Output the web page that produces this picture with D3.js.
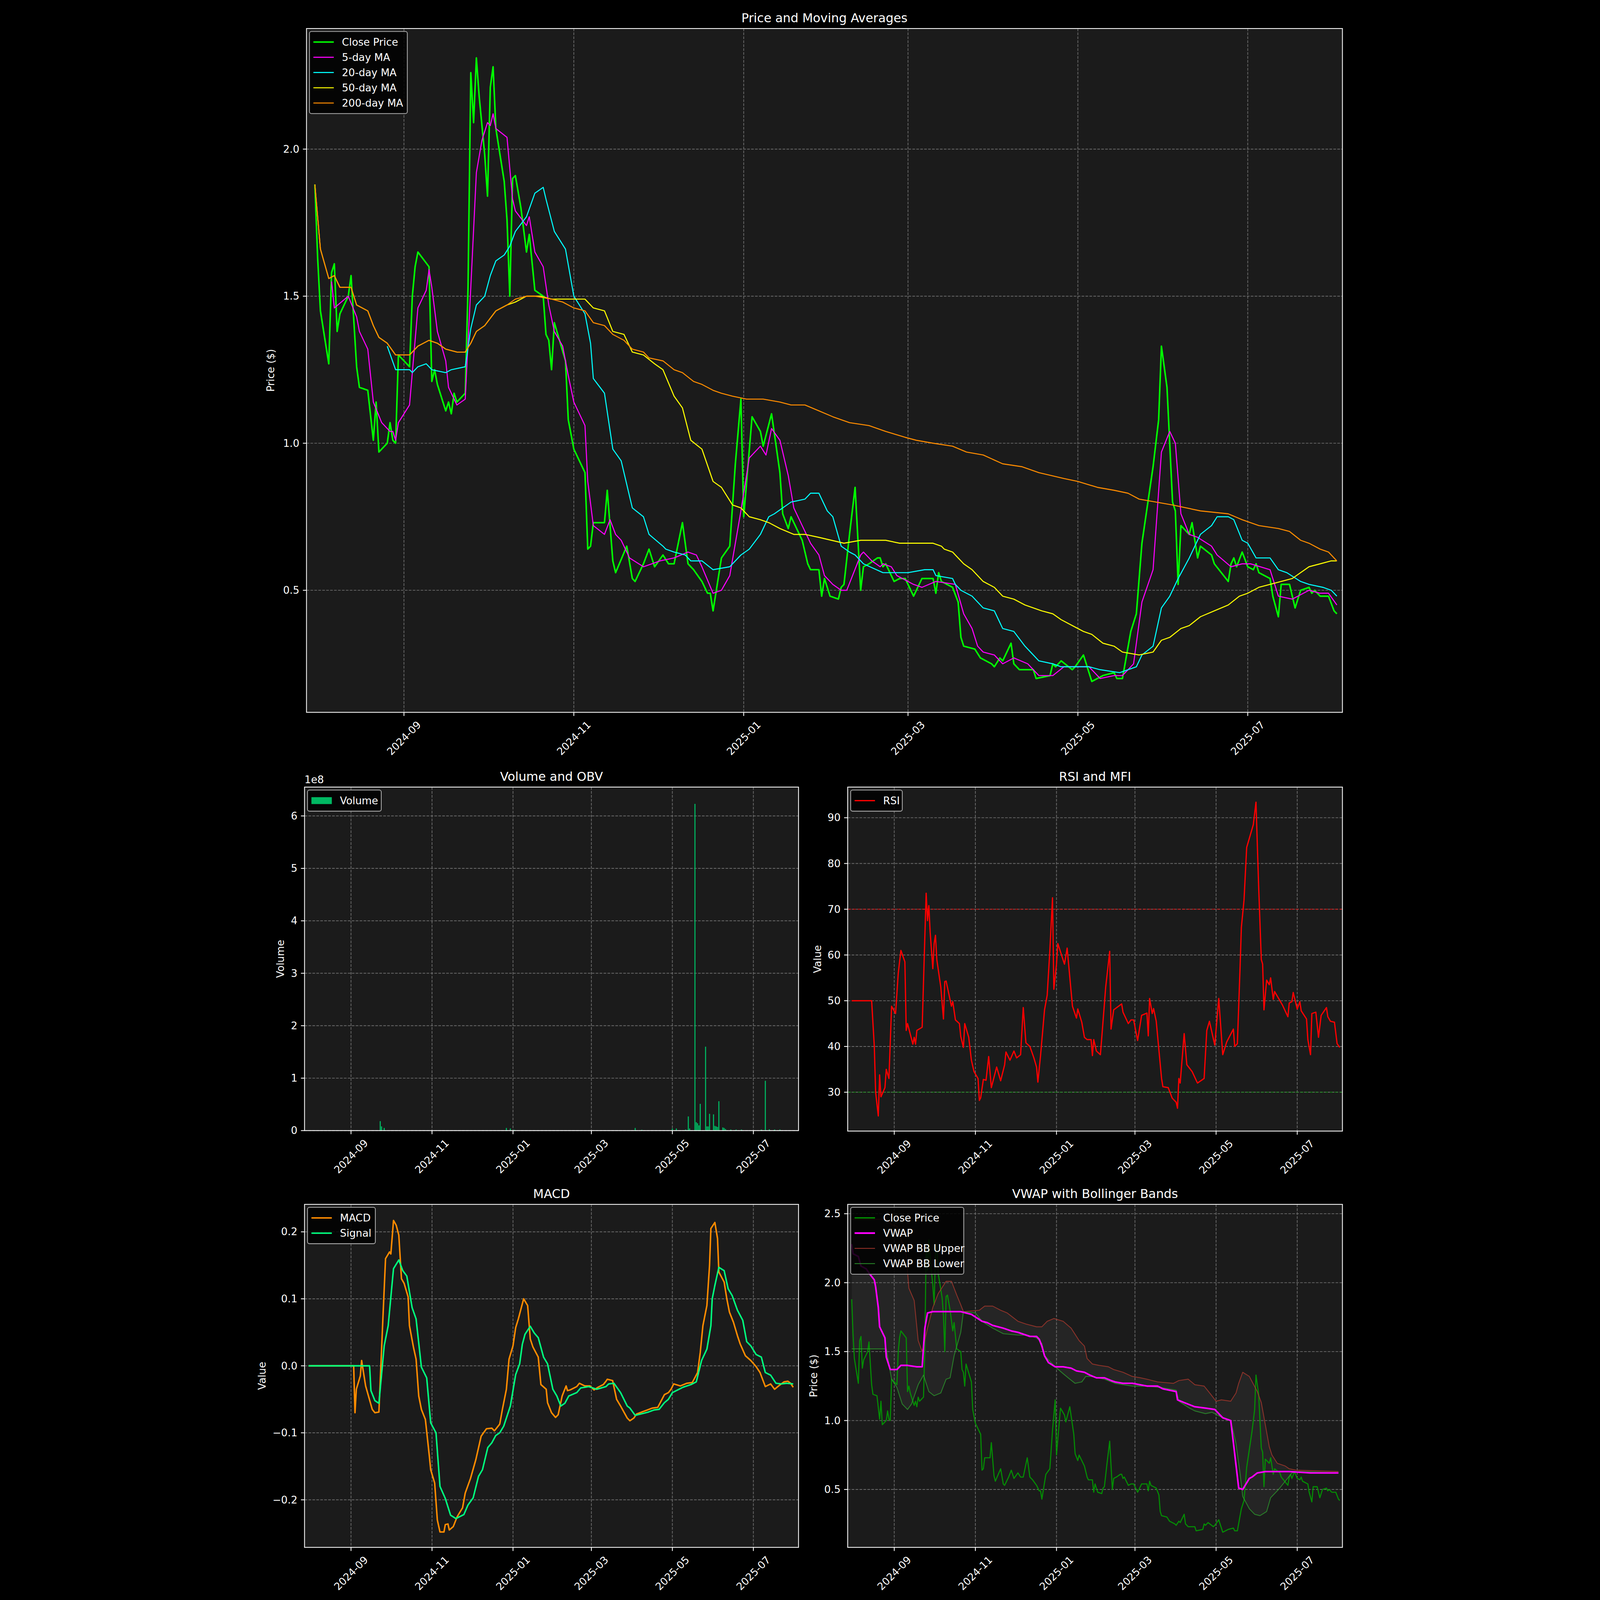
<!DOCTYPE html>
<html>
<head>
<meta charset="utf-8">
<script src="https://cdn.jsdelivr.net/npm/d3@7"></script>
<style>
  html, body { margin: 0; padding: 0; background: #000; overflow: hidden; }
  #chart { display: block; width: 100vw; height: 100vh; }
  text { font-family: "DejaVu Sans", sans-serif; fill: #fff; }
</style>
</head>
<body>
<svg id="chart" viewBox="0 0 4470 6507" preserveAspectRatio="xMidYMid meet"></svg>
<script>
// ---- data ----
var close = [["2024-07-31",1.88],["2024-08-01",1.63],["2024-08-02",1.45],["2024-08-05",1.27],["2024-08-06",1.58],["2024-08-07",1.61],["2024-08-08",1.38],["2024-08-09",1.44],["2024-08-12",1.50],["2024-08-13",1.57],["2024-08-15",1.26],["2024-08-16",1.19],["2024-08-19",1.18],["2024-08-21",1.01],["2024-08-22",1.14],["2024-08-23",0.97],["2024-08-26",1.00],["2024-08-27",1.07],["2024-08-28",1.01],["2024-08-29",1.00],["2024-08-30",1.30],["2024-09-03",1.26],["2024-09-04",1.50],["2024-09-05",1.60],["2024-09-06",1.65],["2024-09-10",1.60],["2024-09-11",1.21],["2024-09-12",1.25],["2024-09-13",1.20],["2024-09-16",1.11],["2024-09-17",1.14],["2024-09-18",1.10],["2024-09-19",1.17],["2024-09-20",1.14],["2024-09-23",1.17],["2024-09-24",1.53],["2024-09-25",2.26],["2024-09-26",2.09],["2024-09-27",2.31],["2024-09-28",2.18],["2024-09-30",1.98],["2024-10-01",1.84],["2024-10-02",2.21],["2024-10-03",2.28],["2024-10-04",2.07],["2024-10-07",1.89],["2024-10-08",1.76],["2024-10-09",1.50],["2024-10-10",1.90],["2024-10-11",1.91],["2024-10-13",1.80],["2024-10-15",1.65],["2024-10-16",1.71],["2024-10-18",1.52],["2024-10-21",1.50],["2024-10-22",1.37],["2024-10-23",1.35],["2024-10-24",1.25],["2024-10-25",1.41],["2024-10-29",1.28],["2024-10-30",1.08],["2024-11-01",0.98],["2024-11-05",0.90],["2024-11-06",0.64],["2024-11-07",0.65],["2024-11-08",0.73],["2024-11-12",0.73],["2024-11-13",0.84],["2024-11-14",0.72],["2024-11-15",0.60],["2024-11-16",0.56],["2024-11-20",0.65],["2024-11-22",0.54],["2024-11-23",0.53],["2024-11-26",0.59],["2024-11-28",0.64],["2024-11-30",0.58],["2024-12-03",0.62],["2024-12-05",0.59],["2024-12-07",0.59],["2024-12-10",0.73],["2024-12-12",0.59],["2024-12-14",0.57],["2024-12-17",0.53],["2024-12-19",0.49],["2024-12-20",0.49],["2024-12-21",0.43],["2024-12-24",0.61],["2024-12-27",0.65],["2024-12-29",0.93],["2024-12-31",1.15],["2025-01-01",0.75],["2025-01-04",1.09],["2025-01-07",1.04],["2025-01-08",0.99],["2025-01-11",1.10],["2025-01-14",0.90],["2025-01-15",0.76],["2025-01-17",0.71],["2025-01-18",0.75],["2025-01-22",0.67],["2025-01-24",0.59],["2025-01-25",0.57],["2025-01-28",0.57],["2025-01-29",0.48],["2025-01-30",0.54],["2025-02-01",0.48],["2025-02-04",0.47],["2025-02-05",0.51],["2025-02-06",0.52],["2025-02-08",0.69],["2025-02-10",0.85],["2025-02-12",0.50],["2025-02-13",0.58],["2025-02-15",0.59],["2025-02-18",0.61],["2025-02-19",0.61],["2025-02-20",0.58],["2025-02-21",0.59],["2025-02-24",0.53],["2025-02-26",0.54],["2025-02-28",0.54],["2025-03-03",0.48],["2025-03-06",0.54],["2025-03-08",0.54],["2025-03-10",0.54],["2025-03-11",0.49],["2025-03-12",0.56],["2025-03-13",0.53],["2025-03-17",0.51],["2025-03-19",0.46],["2025-03-20",0.34],["2025-03-21",0.31],["2025-03-25",0.30],["2025-03-27",0.27],["2025-03-31",0.25],["2025-04-01",0.24],["2025-04-03",0.27],["2025-04-04",0.26],["2025-04-07",0.32],["2025-04-08",0.25],["2025-04-10",0.23],["2025-04-15",0.23],["2025-04-16",0.20],["2025-04-21",0.21],["2025-04-22",0.25],["2025-04-23",0.24],["2025-04-25",0.26],["2025-04-29",0.23],["2025-04-30",0.24],["2025-05-03",0.28],["2025-05-06",0.19],["2025-05-08",0.20],["2025-05-10",0.21],["2025-05-14",0.22],["2025-05-15",0.20],["2025-05-17",0.20],["2025-05-20",0.36],["2025-05-22",0.42],["2025-05-24",0.66],["2025-05-28",0.92],["2025-05-30",1.08],["2025-05-31",1.33],["2025-06-02",1.19],["2025-06-04",0.80],["2025-06-05",0.77],["2025-06-06",0.52],["2025-06-07",0.72],["2025-06-10",0.69],["2025-06-11",0.73],["2025-06-13",0.61],["2025-06-14",0.65],["2025-06-18",0.62],["2025-06-19",0.59],["2025-06-24",0.53],["2025-06-25",0.59],["2025-06-26",0.61],["2025-06-27",0.58],["2025-06-29",0.63],["2025-07-01",0.58],["2025-07-03",0.57],["2025-07-04",0.59],["2025-07-05",0.56],["2025-07-09",0.54],["2025-07-10",0.48],["2025-07-12",0.41],["2025-07-13",0.52],["2025-07-16",0.52],["2025-07-18",0.44],["2025-07-20",0.50],["2025-07-23",0.51],["2025-07-24",0.49],["2025-07-25",0.50],["2025-07-27",0.48],["2025-07-30",0.48],["2025-08-01",0.43],["2025-08-02",0.42]];

var ma5 = [["2024-08-06",1.55],["2024-08-07",1.46],["2024-08-12",1.50],["2024-08-15",1.43],["2024-08-16",1.38],["2024-08-19",1.32],["2024-08-21",1.14],["2024-08-24",1.07],["2024-08-27",1.04],["2024-08-28",1.04],["2024-08-29",1.01],["2024-08-30",1.07],["2024-09-03",1.13],["2024-09-06",1.46],["2024-09-09",1.52],["2024-09-10",1.59],["2024-09-11",1.53],["2024-09-13",1.38],["2024-09-16",1.28],["2024-09-17",1.19],["2024-09-20",1.13],["2024-09-23",1.15],["2024-09-25",1.53],["2024-09-27",1.92],["2024-09-29",2.03],["2024-10-01",2.09],["2024-10-02",2.08],["2024-10-03",2.12],["2024-10-04",2.07],["2024-10-08",2.04],["2024-10-10",1.83],["2024-10-11",1.79],["2024-10-15",1.74],["2024-10-16",1.77],["2024-10-18",1.65],["2024-10-21",1.60],["2024-10-23",1.47],["2024-10-25",1.38],["2024-10-28",1.33],["2024-10-30",1.23],["2024-11-01",1.14],["2024-11-05",1.06],["2024-11-06",0.87],["2024-11-08",0.72],["2024-11-12",0.69],["2024-11-14",0.74],["2024-11-16",0.69],["2024-11-18",0.67],["2024-11-21",0.61],["2024-11-26",0.58],["2024-12-02",0.60],["2024-12-07",0.61],["2024-12-12",0.63],["2024-12-15",0.62],["2024-12-17",0.58],["2024-12-21",0.49],["2024-12-24",0.50],["2024-12-27",0.55],["2024-12-31",0.77],["2025-01-03",0.95],["2025-01-07",0.99],["2025-01-09",0.96],["2025-01-11",1.05],["2025-01-14",1.01],["2025-01-17",0.89],["2025-01-19",0.78],["2025-01-22",0.72],["2025-01-25",0.66],["2025-01-28",0.62],["2025-01-30",0.55],["2025-02-02",0.52],["2025-02-05",0.50],["2025-02-07",0.50],["2025-02-12",0.62],["2025-02-13",0.63],["2025-02-16",0.60],["2025-02-19",0.58],["2025-02-20",0.59],["2025-02-23",0.58],["2025-02-25",0.55],["2025-03-03",0.52],["2025-03-06",0.51],["2025-03-11",0.53],["2025-03-18",0.52],["2025-03-21",0.42],["2025-03-24",0.37],["2025-03-26",0.31],["2025-03-28",0.29],["2025-04-01",0.28],["2025-04-04",0.25],["2025-04-08",0.27],["2025-04-13",0.25],["2025-04-17",0.21],["2025-04-22",0.21],["2025-04-26",0.24],["2025-05-01",0.24],["2025-05-05",0.24],["2025-05-09",0.20],["2025-05-14",0.21],["2025-05-17",0.21],["2025-05-21",0.25],["2025-05-24",0.46],["2025-05-28",0.57],["2025-05-31",0.97],["2025-06-03",1.04],["2025-06-05",1.00],["2025-06-07",0.76],["2025-06-10",0.69],["2025-06-13",0.68],["2025-06-18",0.65],["2025-06-20",0.62],["2025-06-25",0.58],["2025-06-29",0.59],["2025-07-02",0.59],["2025-07-09",0.57],["2025-07-12",0.48],["2025-07-17",0.47],["2025-07-23",0.50],["2025-07-27",0.49],["2025-07-30",0.49],["2025-08-02",0.45]];

var ma20 = [["2024-08-26",1.33],["2024-08-29",1.25],["2024-09-03",1.25],["2024-09-04",1.24],["2024-09-06",1.26],["2024-09-09",1.27],["2024-09-11",1.25],["2024-09-16",1.24],["2024-09-18",1.25],["2024-09-23",1.26],["2024-09-25",1.39],["2024-09-27",1.47],["2024-09-30",1.50],["2024-10-02",1.57],["2024-10-04",1.62],["2024-10-07",1.64],["2024-10-09",1.67],["2024-10-11",1.72],["2024-10-15",1.77],["2024-10-18",1.85],["2024-10-21",1.87],["2024-10-22",1.83],["2024-10-25",1.72],["2024-10-29",1.66],["2024-11-01",1.50],["2024-11-05",1.44],["2024-11-07",1.34],["2024-11-08",1.22],["2024-11-12",1.17],["2024-11-15",0.98],["2024-11-18",0.94],["2024-11-22",0.78],["2024-11-26",0.75],["2024-11-28",0.69],["2024-12-03",0.65],["2024-12-04",0.64],["2024-12-07",0.63],["2024-12-11",0.62],["2024-12-13",0.60],["2024-12-17",0.60],["2024-12-21",0.57],["2024-12-27",0.58],["2024-12-31",0.62],["2025-01-03",0.64],["2025-01-07",0.69],["2025-01-10",0.75],["2025-01-12",0.76],["2025-01-18",0.80],["2025-01-23",0.81],["2025-01-25",0.83],["2025-01-28",0.83],["2025-01-31",0.77],["2025-02-02",0.75],["2025-02-05",0.65],["2025-02-08",0.63],["2025-02-10",0.62],["2025-02-13",0.59],["2025-02-20",0.56],["2025-03-01",0.56],["2025-03-07",0.57],["2025-03-10",0.57],["2025-03-11",0.55],["2025-03-17",0.54],["2025-03-18",0.52],["2025-03-20",0.50],["2025-03-24",0.48],["2025-03-28",0.44],["2025-04-01",0.43],["2025-04-04",0.37],["2025-04-08",0.36],["2025-04-12",0.31],["2025-04-14",0.29],["2025-04-17",0.26],["2025-04-22",0.25],["2025-04-25",0.24],["2025-05-01",0.24],["2025-05-05",0.24],["2025-05-09",0.23],["2025-05-16",0.22],["2025-05-22",0.24],["2025-05-24",0.28],["2025-05-28",0.31],["2025-05-31",0.44],["2025-06-03",0.48],["2025-06-06",0.54],["2025-06-10",0.61],["2025-06-14",0.69],["2025-06-18",0.72],["2025-06-20",0.75],["2025-06-24",0.75],["2025-06-26",0.74],["2025-06-29",0.67],["2025-07-01",0.66],["2025-07-04",0.61],["2025-07-09",0.61],["2025-07-12",0.57],["2025-07-15",0.56],["2025-07-20",0.53],["2025-07-23",0.52],["2025-07-28",0.51],["2025-07-31",0.50],["2025-08-02",0.48]];

var ma200 = [["2024-07-31",1.88],["2024-08-02",1.66],["2024-08-05",1.56],["2024-08-07",1.57],["2024-08-09",1.53],["2024-08-13",1.53],["2024-08-15",1.47],["2024-08-19",1.45],["2024-08-21",1.40],["2024-08-23",1.36],["2024-08-26",1.34],["2024-08-29",1.30],["2024-09-03",1.30],["2024-09-06",1.33],["2024-09-08",1.34],["2024-09-10",1.35],["2024-09-13",1.34],["2024-09-16",1.32],["2024-09-20",1.31],["2024-09-23",1.31],["2024-09-25",1.34],["2024-09-27",1.38],["2024-09-30",1.40],["2024-10-04",1.45],["2024-10-08",1.47],["2024-10-11",1.49],["2024-10-15",1.50],["2024-10-18",1.50],["2024-10-24",1.49],["2024-10-28",1.48],["2024-11-01",1.46],["2024-11-05",1.45],["2024-11-08",1.41],["2024-11-12",1.40],["2024-11-15",1.37],["2024-11-19",1.35],["2024-11-22",1.32],["2024-11-26",1.31],["2024-11-28",1.29],["2024-12-03",1.28],["2024-12-07",1.25],["2024-12-10",1.24],["2024-12-14",1.21],["2024-12-17",1.20],["2024-12-21",1.18],["2024-12-24",1.17],["2024-12-28",1.16],["2025-01-02",1.15],["2025-01-08",1.15],["2025-01-14",1.14],["2025-01-18",1.13],["2025-01-23",1.13],["2025-01-28",1.11],["2025-02-02",1.09],["2025-02-08",1.07],["2025-02-15",1.06],["2025-02-21",1.04],["2025-02-28",1.02],["2025-03-04",1.01],["2025-03-10",1.00],["2025-03-17",0.99],["2025-03-22",0.97],["2025-03-28",0.96],["2025-04-04",0.93],["2025-04-11",0.92],["2025-04-17",0.90],["2025-04-26",0.88],["2025-05-01",0.87],["2025-05-08",0.85],["2025-05-14",0.84],["2025-05-19",0.83],["2025-05-23",0.81],["2025-05-29",0.80],["2025-06-04",0.79],["2025-06-09",0.78],["2025-06-14",0.77],["2025-06-24",0.76],["2025-06-29",0.74],["2025-07-05",0.72],["2025-07-12",0.71],["2025-07-16",0.70],["2025-07-20",0.67],["2025-07-23",0.66],["2025-07-27",0.64],["2025-07-30",0.63],["2025-08-02",0.60]];

var ma50 = [["2024-07-31",1.88],["2024-08-02",1.66],["2024-08-05",1.56],["2024-08-07",1.57],["2024-08-09",1.53],["2024-08-13",1.53],["2024-08-15",1.47],["2024-08-19",1.45],["2024-08-21",1.40],["2024-08-23",1.36],["2024-08-26",1.34],["2024-08-29",1.30],["2024-09-03",1.30],["2024-09-06",1.33],["2024-09-08",1.34],["2024-09-10",1.35],["2024-09-13",1.34],["2024-09-16",1.32],["2024-09-20",1.31],["2024-09-23",1.31],["2024-09-25",1.34],["2024-09-27",1.38],["2024-09-30",1.40],["2024-10-04",1.45],["2024-10-08",1.47],["2024-10-11",1.48],["2024-10-15",1.50],["2024-10-20",1.50],["2024-10-24",1.49],["2024-11-01",1.49],["2024-11-05",1.49],["2024-11-08",1.46],["2024-11-12",1.45],["2024-11-15",1.38],["2024-11-19",1.37],["2024-11-22",1.31],["2024-11-26",1.30],["2024-11-30",1.27],["2024-12-03",1.25],["2024-12-07",1.16],["2024-12-10",1.12],["2024-12-13",1.01],["2024-12-17",0.98],["2024-12-21",0.87],["2024-12-24",0.85],["2024-12-26",0.82],["2024-12-28",0.79],["2024-12-31",0.78],["2025-01-03",0.75],["2025-01-07",0.74],["2025-01-10",0.73],["2025-01-14",0.71],["2025-01-19",0.69],["2025-01-23",0.69],["2025-01-28",0.68],["2025-02-06",0.66],["2025-02-12",0.67],["2025-02-21",0.67],["2025-02-26",0.66],["2025-03-04",0.66],["2025-03-10",0.66],["2025-03-13",0.65],["2025-03-14",0.64],["2025-03-17",0.63],["2025-03-21",0.59],["2025-03-24",0.57],["2025-03-28",0.53],["2025-04-01",0.51],["2025-04-04",0.48],["2025-04-08",0.47],["2025-04-12",0.45],["2025-04-15",0.44],["2025-04-18",0.43],["2025-04-22",0.42],["2025-04-25",0.40],["2025-04-29",0.38],["2025-05-03",0.36],["2025-05-06",0.35],["2025-05-10",0.32],["2025-05-14",0.31],["2025-05-17",0.29],["2025-05-23",0.28],["2025-05-28",0.29],["2025-05-31",0.33],["2025-06-03",0.34],["2025-06-07",0.37],["2025-06-10",0.38],["2025-06-14",0.41],["2025-06-19",0.43],["2025-06-24",0.45],["2025-06-28",0.48],["2025-07-01",0.49],["2025-07-05",0.51],["2025-07-09",0.52],["2025-07-13",0.53],["2025-07-17",0.54],["2025-07-20",0.56],["2025-07-23",0.58],["2025-07-27",0.59],["2025-07-31",0.60],["2025-08-02",0.60]];

var volume = [["2024-09-23",1.8e7],["2024-09-24",0.8e7],["2024-09-26",0.5e7],["2024-12-27",0.5e7],["2024-12-30",0.4e7],["2025-01-02",0.15e7],["2025-04-03",0.5e7],["2025-04-08",0.15e7],["2025-05-01",0.4e7],["2025-05-04",0.4e7],["2025-05-11",0.2e7],["2025-05-13",2.7e7],["2025-05-14",0.4e7],["2025-05-18",6.23e8],["2025-05-19",1.6e7],["2025-05-20",1.4e7],["2025-05-21",1.0e7],["2025-05-22",5.1e7],["2025-05-26",1.6e8],["2025-05-27",0.8e7],["2025-05-28",0.8e7],["2025-05-29",3.2e7],["2025-06-01",3.1e7],["2025-06-02",0.9e7],["2025-06-03",0.8e7],["2025-06-04",0.7e7],["2025-06-05",5.6e7],["2025-06-08",0.6e7],["2025-06-09",0.5e7],["2025-06-10",0.3e7],["2025-06-14",0.2e7],["2025-06-18",0.2e7],["2025-06-22",0.2e7],["2025-07-07",0.2e7],["2025-07-10",9.5e7],["2025-07-13",0.25e7],["2025-07-17",0.2e7],["2025-07-21",0.2e7]];

var rsi = [["2024-07-31",50],["2024-08-15",50],["2024-08-17",40],["2024-08-18",30],["2024-08-20",24.8],["2024-08-21",33.8],["2024-08-22",29],["2024-08-25",31],["2024-08-26",35],["2024-08-28",33],["2024-08-30",48.8],["2024-09-02",47.2],["2024-09-04",56],["2024-09-06",61],["2024-09-09",58.5],["2024-09-10",43.5],["2024-09-11",45],["2024-09-15",40.5],["2024-09-16",42],["2024-09-17",40.5],["2024-09-18",43.5],["2024-09-22",44.2],["2024-09-24",64],["2024-09-25",73.5],["2024-09-26",67.5],["2024-09-27",70.8],["2024-09-28",65],["2024-09-30",57],["2024-10-01",62.5],["2024-10-02",64.3],["2024-10-03",59],["2024-10-06",53],["2024-10-08",46],["2024-10-09",54.2],["2024-10-10",54.3],["2024-10-14",48.8],["2024-10-15",49.8],["2024-10-17",45.8],["2024-10-20",45],["2024-10-21",42.2],["2024-10-23",39.8],["2024-10-24",45],["2024-10-27",42],["2024-10-29",37],["2024-10-31",34.5],["2024-11-03",33],["2024-11-04",28.2],["2024-11-05",28.8],["2024-11-07",32.8],["2024-11-09",32.6],["2024-11-11",37.8],["2024-11-13",31],["2024-11-17",35.5],["2024-11-20",32.5],["2024-11-23",36],["2024-11-24",38.8],["2024-11-27",37],["2024-11-30",39],["2024-12-02",37.5],["2024-12-05",38.2],["2024-12-07",48.5],["2024-12-09",40.8],["2024-12-12",40],["2024-12-15",37.5],["2024-12-17",35.5],["2024-12-18",32.2],["2024-12-20",38],["2024-12-23",48],["2024-12-25",51.2],["2024-12-27",61],["2024-12-29",72.5],["2024-12-30",52.5],["2025-01-01",58],["2025-01-02",62.5],["2025-01-07",58],["2025-01-09",61.5],["2025-01-13",48.8],["2025-01-16",46.2],["2025-01-17",48.2],["2025-01-20",45.3],["2025-01-22",42],["2025-01-24",41.5],["2025-01-27",41.5],["2025-01-28",38],["2025-01-29",41.5],["2025-01-31",39],["2025-02-03",38.2],["2025-02-04",41.8],["2025-02-07",53],["2025-02-10",60.8],["2025-02-11",43.8],["2025-02-13",48],["2025-02-19",49.3],["2025-02-20",47.5],["2025-02-24",45],["2025-02-26",45.8],["2025-02-28",45.8],["2025-03-03",41.3],["2025-03-06",46.8],["2025-03-10",47.3],["2025-03-11",42.3],["2025-03-12",50.5],["2025-03-14",47.2],["2025-03-15",48.3],["2025-03-17",45.5],["2025-03-21",33],["2025-03-22",31.2],["2025-03-26",31],["2025-03-29",28.7],["2025-04-01",27.8],["2025-04-02",26.5],["2025-04-03",33],["2025-04-04",32],["2025-04-07",42.8],["2025-04-09",36],["2025-04-13",34.5],["2025-04-17",32],["2025-04-22",33],["2025-04-24",43.5],["2025-04-26",45.5],["2025-04-30",40.3],["2025-05-03",50.5],["2025-05-06",38.2],["2025-05-09",41],["2025-05-14",43.8],["2025-05-15",40],["2025-05-17",40.6],["2025-05-19",57],["2025-05-20",66],["2025-05-22",72],["2025-05-24",83.5],["2025-05-29",88.5],["2025-05-31",93.4],["2025-06-02",75],["2025-06-04",59],["2025-06-05",58],["2025-06-06",48],["2025-06-08",54.5],["2025-06-10",53.5],["2025-06-11",55],["2025-06-13",50.3],["2025-06-14",52],["2025-06-18",50],["2025-06-20",49],["2025-06-24",46.5],["2025-06-25",49.5],["2025-06-27",49.8],["2025-06-28",51.8],["2025-07-01",48.2],["2025-07-03",49.8],["2025-07-04",47.8],["2025-07-08",46],["2025-07-09",41.5],["2025-07-11",38.2],["2025-07-12",47.2],["2025-07-15",47.5],["2025-07-17",42],["2025-07-19",46.8],["2025-07-23",48.5],["2025-07-24",46.5],["2025-07-26",45.5],["2025-07-29",45.3],["2025-07-31",40.6],["2025-08-02",39.8]];

var macd = [["2024-07-31",0],["2024-09-03",0],["2024-09-04",-0.07],["2024-09-05",-0.035],["2024-09-08",-0.015],["2024-09-09",0.008],["2024-09-10",-0.005],["2024-09-12",-0.03],["2024-09-17",-0.065],["2024-09-19",-0.07],["2024-09-22",-0.069],["2024-09-25",0.07],["2024-09-27",0.16],["2024-09-30",0.17],["2024-10-01",0.167],["2024-10-03",0.217],["2024-10-05",0.21],["2024-10-07",0.195],["2024-10-09",0.13],["2024-10-11",0.123],["2024-10-14",0.103],["2024-10-15",0.06],["2024-10-18",0.028],["2024-10-20",0.01],["2024-10-22",-0.045],["2024-10-24",-0.065],["2024-10-27",-0.08],["2024-10-30",-0.135],["2024-10-31",-0.155],["2024-11-03",-0.175],["2024-11-05",-0.23],["2024-11-07",-0.248],["2024-11-10",-0.248],["2024-11-11",-0.237],["2024-11-13",-0.236],["2024-11-14",-0.245],["2024-11-17",-0.24],["2024-11-20",-0.225],["2024-11-24",-0.212],["2024-11-26",-0.19],["2024-11-30",-0.168],["2024-12-04",-0.14],["2024-12-08",-0.105],["2024-12-12",-0.094],["2024-12-16",-0.093],["2024-12-18",-0.097],["2024-12-22",-0.087],["2024-12-24",-0.065],["2024-12-27",-0.035],["2024-12-29",0.01],["2025-01-01",0.03],["2025-01-03",0.057],["2025-01-05",0.07],["2025-01-09",0.1],["2025-01-12",0.09],["2025-01-14",0.04],["2025-01-16",0.028],["2025-01-20",0.013],["2025-01-22",-0.028],["2025-01-26",-0.035],["2025-01-27",-0.055],["2025-01-30",-0.07],["2025-02-02",-0.077],["2025-02-04",-0.073],["2025-02-07",-0.045],["2025-02-10",-0.03],["2025-02-11",-0.037],["2025-02-13",-0.036],["2025-02-18",-0.031],["2025-02-20",-0.026],["2025-02-24",-0.03],["2025-02-28",-0.03],["2025-03-03",-0.036],["2025-03-06",-0.032],["2025-03-10",-0.028],["2025-03-12",-0.023],["2025-03-13",-0.02],["2025-03-17",-0.022],["2025-03-20",-0.05],["2025-03-23",-0.06],["2025-03-28",-0.078],["2025-03-30",-0.082],["2025-04-02",-0.078],["2025-04-04",-0.072],["2025-04-08",-0.069],["2025-04-12",-0.066],["2025-04-16",-0.063],["2025-04-20",-0.062],["2025-04-25",-0.043],["2025-04-28",-0.04],["2025-04-30",-0.035],["2025-05-02",-0.027],["2025-05-07",-0.03],["2025-05-12",-0.026],["2025-05-16",-0.025],["2025-05-20",-0.01],["2025-05-22",0.02],["2025-05-24",0.06],["2025-05-27",0.09],["2025-05-29",0.15],["2025-05-30",0.205],["2025-06-02",0.214],["2025-06-04",0.19],["2025-06-05",0.14],["2025-06-09",0.125],["2025-06-11",0.1],["2025-06-13",0.08],["2025-06-16",0.065],["2025-06-19",0.045],["2025-06-21",0.033],["2025-06-25",0.015],["2025-06-29",0.008],["2025-07-03",-0.001],["2025-07-06",-0.01],["2025-07-10",-0.031],["2025-07-14",-0.027],["2025-07-17",-0.035],["2025-07-20",-0.03],["2025-07-24",-0.024],["2025-07-27",-0.023],["2025-07-29",-0.026],["2025-07-31",-0.032]];

var signal = [["2024-07-31",0],["2024-09-15",0],["2024-09-16",-0.037],["2024-09-19",-0.052],["2024-09-22",-0.056],["2024-09-26",0.03],["2024-09-29",0.06],["2024-10-03",0.145],["2024-10-07",0.158],["2024-10-10",0.142],["2024-10-13",0.134],["2024-10-17",0.087],["2024-10-20",0.07],["2024-10-24",-0.002],["2024-10-28",-0.018],["2024-10-31",-0.085],["2024-11-04",-0.1],["2024-11-07",-0.18],["2024-11-11",-0.198],["2024-11-15",-0.223],["2024-11-19",-0.228],["2024-11-25",-0.222],["2024-11-28",-0.208],["2024-12-02",-0.197],["2024-12-06",-0.165],["2024-12-09",-0.155],["2024-12-13",-0.122],["2024-12-16",-0.115],["2024-12-19",-0.104],["2024-12-22",-0.1],["2024-12-25",-0.09],["2024-12-30",-0.06],["2025-01-03",-0.013],["2025-01-06",0.003],["2025-01-08",0.032],["2025-01-10",0.047],["2025-01-14",0.059],["2025-01-17",0.049],["2025-01-20",0.042],["2025-01-24",0.013],["2025-01-27",0.003],["2025-01-31",-0.035],["2025-02-03",-0.045],["2025-02-06",-0.06],["2025-02-09",-0.056],["2025-02-12",-0.045],["2025-02-18",-0.04],["2025-02-21",-0.033],["2025-02-27",-0.031],["2025-03-05",-0.035],["2025-03-12",-0.031],["2025-03-14",-0.027],["2025-03-18",-0.026],["2025-03-23",-0.04],["2025-03-28",-0.06],["2025-03-30",-0.063],["2025-04-03",-0.074],["2025-04-07",-0.072],["2025-04-13",-0.069],["2025-04-17",-0.066],["2025-04-21",-0.065],["2025-04-25",-0.055],["2025-04-28",-0.05],["2025-05-01",-0.04],["2025-05-05",-0.036],["2025-05-09",-0.032],["2025-05-15",-0.028],["2025-05-19",-0.024],["2025-05-23",0.008],["2025-05-27",0.025],["2025-05-30",0.06],["2025-05-31",0.1],["2025-06-02",0.12],["2025-06-05",0.147],["2025-06-09",0.142],["2025-06-12",0.115],["2025-06-15",0.105],["2025-06-19",0.083],["2025-06-23",0.068],["2025-06-26",0.036],["2025-06-29",0.03],["2025-07-03",0.017],["2025-07-07",0.013],["2025-07-10",-0.01],["2025-07-14",-0.014],["2025-07-18",-0.026],["2025-07-22",-0.027],["2025-07-26",-0.026],["2025-07-31",-0.027]];

var vwap = [["2024-07-31",2.28],["2024-08-01",2.21],["2024-08-05",2.19],["2024-08-07",2.12],["2024-08-11",2.10],["2024-08-13",2.07],["2024-08-17",2.02],["2024-08-18",1.97],["2024-08-20",1.82],["2024-08-21",1.68],["2024-08-25",1.60],["2024-08-26",1.46],["2024-08-29",1.37],["2024-09-03",1.37],["2024-09-06",1.40],["2024-09-11",1.40],["2024-09-18",1.39],["2024-09-22",1.39],["2024-09-24",1.67],["2024-09-26",1.78],["2024-09-30",1.79],["2024-10-05",1.79],["2024-10-16",1.79],["2024-10-21",1.79],["2024-10-29",1.77],["2024-11-06",1.72],["2024-11-10",1.71],["2024-11-14",1.69],["2024-11-22",1.67],["2024-11-28",1.65],["2024-12-03",1.64],["2024-12-12",1.61],["2024-12-17",1.61],["2024-12-19",1.59],["2024-12-21",1.54],["2024-12-23",1.47],["2024-12-26",1.42],["2024-12-31",1.39],["2025-01-06",1.39],["2025-01-12",1.38],["2025-01-16",1.36],["2025-01-22",1.35],["2025-01-26",1.33],["2025-01-31",1.31],["2025-02-06",1.31],["2025-02-11",1.29],["2025-02-14",1.28],["2025-02-20",1.27],["2025-02-27",1.27],["2025-03-10",1.25],["2025-03-18",1.25],["2025-03-22",1.23],["2025-04-01",1.21],["2025-04-02",1.15],["2025-04-07",1.13],["2025-04-15",1.10],["2025-04-23",1.09],["2025-04-30",1.08],["2025-05-02",1.06],["2025-05-06",1.02],["2025-05-12",1.00],["2025-05-14",0.84],["2025-05-18",0.51],["2025-05-21",0.50],["2025-05-26",0.58],["2025-05-28",0.59],["2025-06-01",0.62],["2025-06-07",0.63],["2025-06-25",0.63],["2025-07-11",0.62],["2025-08-01",0.62]];

var bbUpper = [["2024-07-31",2.46],["2024-08-26",2.46],["2024-08-30",2.42],["2024-09-03",2.41],["2024-09-10",2.20],["2024-09-12",1.96],["2024-09-16",1.87],["2024-09-19",1.58],["2024-09-22",1.50],["2024-09-26",1.67],["2024-09-30",1.82],["2024-10-04",1.92],["2024-10-10",2.01],["2024-10-14",2.01],["2024-10-18",1.91],["2024-10-21",1.84],["2024-10-23",1.79],["2024-11-04",1.80],["2024-11-08",1.83],["2024-11-14",1.83],["2024-11-20",1.80],["2024-11-25",1.78],["2024-12-03",1.72],["2024-12-09",1.70],["2024-12-17",1.68],["2024-12-21",1.68],["2024-12-25",1.72],["2024-12-30",1.74],["2025-01-06",1.72],["2025-01-12",1.67],["2025-01-18",1.58],["2025-01-22",1.54],["2025-01-24",1.45],["2025-01-28",1.41],["2025-02-02",1.40],["2025-02-09",1.39],["2025-02-13",1.37],["2025-02-20",1.35],["2025-02-27",1.32],["2025-03-05",1.31],["2025-03-10",1.30],["2025-03-18",1.28],["2025-03-30",1.27],["2025-04-03",1.29],["2025-04-10",1.30],["2025-04-15",1.26],["2025-04-22",1.25],["2025-04-27",1.19],["2025-05-01",1.14],["2025-05-05",1.15],["2025-05-12",1.14],["2025-05-16",1.20],["2025-05-18",1.27],["2025-05-21",1.35],["2025-05-26",1.32],["2025-06-01",1.21],["2025-06-04",1.13],["2025-06-07",0.97],["2025-06-10",0.81],["2025-06-12",0.75],["2025-06-16",0.69],["2025-06-22",0.67],["2025-06-25",0.65],["2025-06-30",0.64],["2025-08-01",0.63]];

var bbLower = [["2024-07-31",1.52],["2024-08-26",1.52],["2024-08-30",1.30],["2024-09-03",1.24],["2024-09-07",1.12],["2024-09-11",1.08],["2024-09-14",1.12],["2024-09-19",1.26],["2024-09-23",1.33],["2024-09-27",1.21],["2024-10-01",1.18],["2024-10-06",1.20],["2024-10-10",1.30],["2024-10-13",1.31],["2024-10-16",1.47],["2024-10-21",1.64],["2024-10-23",1.79],["2024-11-01",1.78],["2024-11-06",1.72],["2024-11-14",1.67],["2024-11-22",1.63],["2024-12-03",1.62],["2024-12-10",1.62],["2024-12-17",1.60],["2024-12-21",1.56],["2024-12-23",1.47],["2024-12-27",1.43],["2024-12-31",1.39],["2025-01-06",1.34],["2025-01-11",1.30],["2025-01-15",1.27],["2025-01-20",1.28],["2025-01-23",1.32],["2025-01-27",1.32],["2025-02-06",1.30],["2025-02-14",1.27],["2025-02-27",1.25],["2025-03-10",1.25],["2025-03-20",1.24],["2025-04-01",1.22],["2025-04-03",1.14],["2025-04-11",1.09],["2025-04-15",1.07],["2025-04-23",1.05],["2025-04-28",1.06],["2025-05-02",1.04],["2025-05-06",1.02],["2025-05-12",1.00],["2025-05-16",0.83],["2025-05-19",0.62],["2025-05-21",0.45],["2025-05-26",0.36],["2025-05-30",0.32],["2025-06-03",0.31],["2025-06-08",0.34],["2025-06-11",0.44],["2025-06-17",0.50],["2025-06-22",0.56],["2025-06-27",0.62],["2025-07-03",0.63],["2025-08-01",0.62]];

var xTickFormat = "%Y-%m";
var priceTicks = [0.5, 1.0, 1.5, 2.0];
var volumeTicks = [0, 1e8, 2e8, 3e8, 4e8, 5e8, 6e8];
var rsiTicks = [30, 40, 50, 60, 70, 80, 90];
var macdTicks = [-0.2, -0.1, 0, 0.1, 0.2];
var vwapTicks = [0.5, 1.0, 1.5, 2.0, 2.5];

// ---- drawing ----
var parse = d3.timeParse("%Y-%m-%d");
var toPts = function(arr) { return arr.map(d => ({date: parse(d[0]), value: d[1]})); };
var svg = d3.select("#chart");
svg.append("rect").attr("width", 4470).attr("height", 6507).attr("fill", "#000");

var xDomain = [parse("2024-07-28"), parse("2025-08-04")];
var FS = 41.7;

var makePanel = function(opt) {
    var g = svg.append("g");
    var w = opt.x1 - opt.x0, h = opt.y1 - opt.y0;
    var x = d3.scaleTime().domain(xDomain).range([opt.x0, opt.x1]);
    var y = d3.scaleLinear().domain(opt.yDomain).range([opt.y1, opt.y0]);
    g.append("rect").attr("x", opt.x0).attr("y", opt.y0).attr("width", w).attr("height", h).attr("fill", "#1b1b1b");

    var xt = d3.timeMonth.every(2).range(xDomain[0], xDomain[1]);
    // grid
    g.selectAll(".vg").data(xt).enter().append("line")
        .attr("x1", d => x(d)).attr("x2", d => x(d)).attr("y1", opt.y0).attr("y2", opt.y1)
        .attr("stroke", "#6a6a6a").attr("stroke-width", 3).attr("stroke-dasharray", "11,5");
    g.selectAll(".hg").data(opt.yTicks).enter().append("line")
        .attr("x1", opt.x0).attr("x2", opt.x1).attr("y1", d => y(d)).attr("y2", d => y(d))
        .attr("stroke", "#6a6a6a").attr("stroke-width", 3).attr("stroke-dasharray", "11,5");

    var clipId = "clip" + Math.round(opt.x0) + "_" + Math.round(opt.y0);
    svg.append("clipPath").attr("id", clipId).append("rect")
        .attr("x", opt.x0).attr("y", opt.y0).attr("width", w).attr("height", h);
    var plot = svg.append("g").attr("clip-path", "url(#" + clipId + ")");

    // axes
    var ax = svg.append("g");
    ax.selectAll(".xt").data(xt).enter().append("line")
        .attr("x1", d => x(d)).attr("x2", d => x(d)).attr("y1", opt.y1).attr("y2", opt.y1 + 14.6)
        .attr("stroke", "#fff").attr("stroke-width", 3.3);
    ax.selectAll(".xl").data(xt).enter().append("text")
        .text(d3.timeFormat(xTickFormat))
        .attr("font-size", FS)
        .attr("text-anchor", "middle")
        .attr("dominant-baseline", "central")
        .attr("transform", function(d) {
            var L = this.getComputedTextLength();
            var off = 14.6 + 14 + (L + FS) * 0.707 / 2;
            return "translate(" + x(d) + "," + (opt.y1 + off) + ") rotate(-45)";
        });
    ax.selectAll(".yt").data(opt.yTicks).enter().append("line")
        .attr("x1", opt.x0 - 14.6).attr("x2", opt.x0).attr("y1", d => y(d)).attr("y2", d => y(d))
        .attr("stroke", "#fff").attr("stroke-width", 3.3);
    ax.selectAll(".yl").data(opt.yTicks).enter().append("text")
        .text(opt.yFormat)
        .attr("x", opt.x0 - 29).attr("y", d => y(d))
        .attr("font-size", FS).attr("text-anchor", "end").attr("dominant-baseline", "central");
    ax.append("rect").attr("x", opt.x0).attr("y", opt.y0).attr("width", w).attr("height", h)
        .attr("fill", "none").attr("stroke", "#fff").attr("stroke-width", 3.3);
    ax.append("text").text(opt.title)
        .attr("x", (opt.x0 + opt.x1) / 2).attr("y", opt.y0 - 26)
        .attr("font-size", 50).attr("text-anchor", "middle");
    ax.append("text").text(opt.ylabel)
        .attr("transform", "translate(" + opt.ylabelX + "," + ((opt.y0 + opt.y1) / 2) + ") rotate(-90)")
        .attr("font-size", FS).attr("text-anchor", "middle").attr("dominant-baseline", "central");
    return {x: x, y: y, plot: plot, ax: ax, opt: opt};
};

var drawLine = function(p, arr, color, width, opacity) {
    var line = d3.line().x(d => p.x(d.date)).y(d => p.y(d.value));
    p.plot.append("path").datum(toPts(arr)).attr("d", line)
        .attr("fill", "none").attr("stroke", color).attr("stroke-width", width)
        .attr("stroke-opacity", opacity || 1).attr("stroke-linejoin", "round");
};

var legend = function(p, items, boxW) {
    var lx = p.opt.x0 + 12, ly = p.opt.y0 + 12, rowH = 62;
    var boxH = items.length * rowH + 24;
    var lg = svg.append("g");
    lg.append("rect").attr("x", lx).attr("y", ly).attr("width", boxW).attr("height", boxH)
        .attr("rx", 8).attr("fill", "#000").attr("fill-opacity", 0.85)
        .attr("stroke", "#aaa").attr("stroke-width", 3.3);
    items.forEach((it, i) => {
        var cy = ly + 12 + rowH * i + rowH / 2;
        if (it.patch) {
            lg.append("rect").attr("x", lx + 16).attr("y", cy - 14).attr("width", 83).attr("height", 28).attr("fill", it.color);
        } else {
            lg.append("line").attr("x1", lx + 16).attr("x2", lx + 99).attr("y1", cy).attr("y2", cy)
                .attr("stroke", it.color).attr("stroke-width", it.w).attr("stroke-opacity", it.op || 1);
        }
        lg.append("text").text(it.label).attr("x", lx + 132).attr("y", cy)
            .attr("font-size", FS).attr("dominant-baseline", "central");
    });
};

var fmt1 = d => d.toFixed(1);

// Panel 1: price and MAs
var p1 = makePanel({x0: 228, x1: 4441, y0: 116, y1: 2897, yDomain: [0.085, 2.41], yTicks: priceTicks,
    yFormat: fmt1, title: "Price and Moving Averages", ylabel: "Price ($)", ylabelX: 83});
drawLine(p1, close, "#00ff00", 6.2);
drawLine(p1, ma5, "#ff00ff", 4.2);
drawLine(p1, ma20, "#00ffff", 4.2);
drawLine(p1, ma50, "#ffff00", 4.2);
drawLine(p1, ma200, "#ff8c00", 4.2);
legend(p1, [{label: "Close Price", color: "#00ff00", w: 6.2}, {label: "5-day MA", color: "#ff00ff", w: 4.2},
    {label: "20-day MA", color: "#00ffff", w: 4.2}, {label: "50-day MA", color: "#ffff00", w: 4.2},
    {label: "200-day MA", color: "#ff8c00", w: 4.2}], 398);

// Panel 2: volume
var p2 = makePanel({x0: 220, x1: 2229, y0: 3201, y1: 4598, yDomain: [0, 6.55e8], yTicks: volumeTicks,
    yFormat: d => String(d / 1e8), title: "Volume and OBV", ylabel: "Volume", ylabelX: 122});
p2.ax.append("text").text("1e8").attr("x", 220).attr("y", 3201 - 16).attr("font-size", FS);
var bw = p2.x(parse("2024-09-02")) - p2.x(parse("2024-09-01"));
p2.plot.selectAll(".bar").data(toPts(volume)).enter().append("rect")
    .attr("x", d => p2.x(d.date) - bw * 0.4).attr("width", bw * 0.8)
    .attr("y", d => p2.y(d.value)).attr("height", d => p2.y(0) - p2.y(d.value))
    .attr("fill", "#00b862");
legend(p2, [{label: "Volume", color: "#00b862", patch: true}], 300);

// Panel 3: RSI
var p3 = makePanel({x0: 2429, x1: 4441, y0: 3201, y1: 4600, yDomain: [21.5, 96.7], yTicks: rsiTicks,
    yFormat: d => String(d), title: "RSI and MFI", ylabel: "Value", ylabelX: 2306});
p3.plot.append("line").attr("x1", 2429).attr("x2", 4441).attr("y1", p3.y(70)).attr("y2", p3.y(70))
    .attr("stroke", "#ff0000").attr("stroke-opacity", 0.5).attr("stroke-width", 4).attr("stroke-dasharray", "14,6");
p3.plot.append("line").attr("x1", 2429).attr("x2", 4441).attr("y1", p3.y(30)).attr("y2", p3.y(30))
    .attr("stroke", "#00a000").attr("stroke-opacity", 0.5).attr("stroke-width", 4).attr("stroke-dasharray", "14,6");
drawLine(p3, rsi, "#ff0000", 5);
legend(p3, [{label: "RSI", color: "#ff0000", w: 5}], 210);

// Panel 4: MACD
var p4 = makePanel({x0: 220, x1: 2229, y0: 4898, y1: 6293, yDomain: [-0.271, 0.241], yTicks: macdTicks,
    yFormat: d => d === 0 ? "0.0" : d3.format(".1f")(d).replace("-", "\u2212"), title: "MACD", ylabel: "Value", ylabelX: 47});
drawLine(p4, macd, "#ff8c00", 6);
drawLine(p4, signal, "#00ff7f", 6);
legend(p4, [{label: "MACD", color: "#ff8c00", w: 6}, {label: "Signal", color: "#00ff7f", w: 6}], 276);

// Panel 5: VWAP with bands
var p5 = makePanel({x0: 2429, x1: 4441, y0: 4898, y1: 6293, yDomain: [0.08, 2.568], yTicks: vwapTicks,
    yFormat: fmt1, title: "VWAP with Bollinger Bands", ylabel: "Price ($)", ylabelX: 2291});
var bandPts = toPts(bbUpper).concat(toPts(bbLower).reverse());
p5.plot.append("path")
    .attr("d", d3.line().x(d => p5.x(d.date)).y(d => p5.y(d.value))(bandPts) + "Z")
    .attr("fill", "#808080").attr("fill-opacity", 0.1);
drawLine(p5, close, "#00a000", 4.5, 0.85);
drawLine(p5, bbUpper, "#b03a2e", 3.5, 0.75);
drawLine(p5, bbLower, "#2e9e2e", 3.5, 0.75);
drawLine(p5, vwap, "#ff00ff", 6.5);
legend(p5, [{label: "Close Price", color: "#00a000", w: 5}, {label: "VWAP", color: "#ff00ff", w: 7},
    {label: "VWAP BB Upper", color: "#b03a2e", w: 3.5, op: 0.8}, {label: "VWAP BB Lower", color: "#2e9e2e", w: 3.5, op: 0.8}], 460);
</script>
</body>
</html>
